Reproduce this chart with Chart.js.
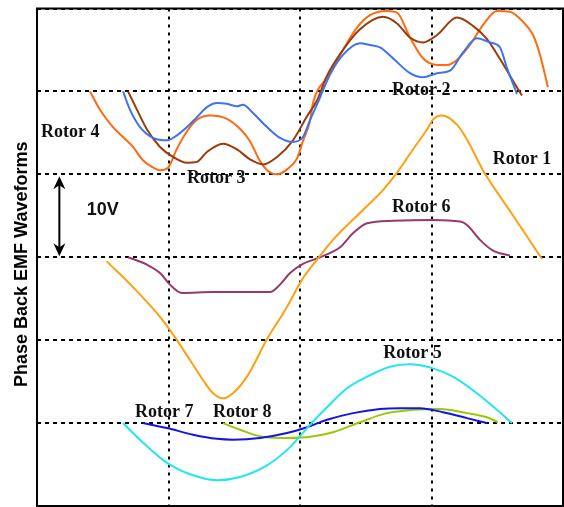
<!DOCTYPE html>
<html>
<head>
<meta charset="utf-8">
<script src="https://cdn.jsdelivr.net/npm/chart.js@4.4.0/dist/chart.umd.min.js"></script>
<style>
  html, body { margin: 0; padding: 0; background: #fff; overflow: hidden; }
</style>
</head>
<body>
<canvas id="emf" width="564" height="507"></canvas>
<script>
// Phase back-EMF waveforms of eight rotor designs.
// Each point: [electrical angle in degrees, offset voltage in V]; one grid division = 10 V.
const rotor1 = [[47.7,29.5],[65.7,26.4],[84.2,22.8],[95.8,20.0],[104.7,17.6],[113.6,15.2],[120.5,13.6],[127.3,13.0],[134.1,13.6],[143.7,15.6],[157.4,20.1],[171.1,24.0],[181.4,27.3],[191.6,29.7],[202.6,32.1],[223.1,35.7],[236.8,38.1],[246.4,40.2],[257.3,43.0],[266.9,45.4],[271.0,46.6],[277.2,47.1],[287.4,46.0],[294.3,44.2],[305.2,40.5],[321.7,36.1],[335.4,32.5],[345.6,29.8]];
const rotor2 = [[58.9,50.0],[63.6,47.8],[70.5,45.7],[79.4,44.4],[89.0,44.1],[95.8,44.7],[102.7,45.7],[109.5,46.9],[116.3,48.1],[123.2,48.6],[130.0,48.5],[136.9,48.2],[141.0,48.4],[147.8,47.4],[157.4,45.7],[166.3,44.4],[175.2,43.9],[182.0,44.5],[186.8,46.5],[191.6,48.4],[200.5,52.0],[209.4,54.4],[221.1,55.8],[227.9,55.6],[234.8,55.3],[243.6,54.0],[255.3,52.2],[264.2,51.7],[273.8,52.2],[282.7,52.5],[291.6,54.7],[301.1,56.4],[310.0,55.9],[316.9,55.3],[321.7,52.8],[328.5,49.7]];
const rotor3 = [[62.3,50.0],[68.4,47.8],[75.3,45.4],[84.2,43.3],[93.1,42.1],[102.7,41.4],[109.5,41.5],[116.3,42.7],[127.3,43.7],[136.9,43.0],[145.8,41.8],[154.7,41.2],[164.3,42.1],[175.2,44.1],[184.8,47.0],[191.6,48.9],[198.5,51.9],[209.4,55.0],[221.1,57.5],[236.8,59.0],[246.4,58.2],[255.3,56.5],[264.2,55.9],[273.8,56.8],[287.4,58.9],[298.4,57.9],[308.0,56.3],[316.9,53.9],[323.7,51.9],[331.9,49.5]];
const rotor4 = [[36.3,50.0],[43.1,47.8],[52.0,45.7],[58.9,44.5],[65.7,43.3],[72.5,41.7],[78.7,40.9],[84.2,40.5],[89.7,40.8],[95.8,43.1],[102.7,45.2],[109.5,46.6],[118.4,47.1],[130.0,46.7],[138.9,45.5],[145.8,44.0],[152.6,41.6],[158.1,40.4],[164.3,40.0],[171.1,40.6],[177.9,41.9],[182.0,44.0],[186.8,46.4],[188.9,48.6],[198.5,51.7],[207.4,54.4],[219.0,57.7],[227.9,59.2],[239.5,59.7],[246.4,59.5],[255.3,56.5],[264.2,54.0],[273.8,53.2],[280.6,53.2],[287.4,53.8],[296.3,55.6],[305.2,58.0],[314.8,59.7],[323.7,59.6],[332.6,58.4],[339.5,56.8],[344.3,54.4],[349.7,50.5]];
const rotor5 = [[58.9,10.0],[70.5,8.0],[89.0,5.2],[106.8,3.7],[123.2,3.1],[138.9,3.5],[157.4,4.9],[173.2,7.1],[184.8,9.4],[198.5,11.9],[212.2,14.2],[225.9,15.6],[241.6,16.8],[255.3,17.1],[271.0,16.6],[284.7,15.6],[301.1,13.6],[314.8,11.6],[325.1,10.0]];
const rotor6 = [[62.3,30.0],[75.3,29.1],[84.2,28.1],[91.0,26.7],[99.2,25.7],[120.5,25.8],[150.6,25.8],[159.5,25.8],[166.3,26.7],[173.2,28.1],[182.0,29.2],[193.7,30.0],[207.4,31.2],[216.3,32.9],[225.9,34.1],[243.6,34.4],[271.0,34.5],[289.5,34.3],[294.3,33.9],[303.2,32.1],[312.1,30.8],[323.7,30.2]];
const rotor7 = [[72.5,10.0],[89.0,9.4],[106.8,8.6],[123.2,8.1],[134.1,8.0],[152.6,8.2],[171.1,8.8],[184.8,9.5],[198.5,10.4],[216.3,11.2],[234.8,11.7],[248.4,11.8],[262.1,11.8],[277.9,11.3],[294.3,10.6],[308.0,10.0]];
const rotor8 = [[127.3,10.0],[138.9,9.2],[152.6,8.4],[166.3,8.2],[184.8,8.3],[202.6,8.9],[221.1,10.1],[239.5,11.2],[257.3,11.6],[275.8,11.7],[294.3,11.2],[308.0,10.7],[315.5,10.1]];

const seriesNames = ['Rotor 1','Rotor 2','Rotor 3','Rotor 4','Rotor 5','Rotor 6','Rotor 7','Rotor 8'];
const seriesData  = [rotor1, rotor2, rotor3, rotor4, rotor5, rotor6, rotor7, rotor8];
const seriesColors = ['#FFA010','#3D72F2','#9C3A0A','#FF6A10','#22E6EE','#973A6B','#1414E6','#99C80A'];

// Axis extents: 0..360 electrical degrees, 0..60 V (six 10 V divisions)
const xRange = [0, 360, 90];
const yRange = [0, 60, 10];

// Text placed in the plot: [text, angle, voltage] (left edge, baseline)
const curveLabels = [
  ['Rotor 1', 312, 41.2], ['Rotor 2', 243, 49.6], ['Rotor 3', 102.7, 39.0], ['Rotor 4', 2.7, 44.5],
  ['Rotor 5', 237, 17.8], ['Rotor 6', 243, 35.5], ['Rotor 7', 67, 10.7], ['Rotor 8', 120.5, 10.7]
];
const scaleNote = ['10V', 34, 35.1];
const scaleArrow = [15.3, 30, 40];

const datasets = seriesData.map((pts, i) => ({
  label: seriesNames[i],
  data: pts.map(p => ({ x: p[0], y: p[1] })),
  borderColor: seriesColors[i],
  borderWidth: 2,
  pointRadius: 0,
  fill: false,
  cubicInterpolationMode: 'monotone'
}));

const decorations = {
  id: 'decorations',
  afterDraw(chart) {
    const { ctx, chartArea: a, scales: { x, y } } = chart;
    ctx.save();
    // frame
    ctx.strokeStyle = '#000';
    ctx.lineWidth = 2;
    ctx.strokeRect(a.left, a.top, a.right - a.left, a.bottom - a.top);

    // curve labels
    ctx.fillStyle = '#111';
    ctx.font = 'bold 18px "Liberation Serif", "Times New Roman", serif';
    ctx.textAlign = 'left';
    ctx.textBaseline = 'alphabetic';
    curveLabels.forEach(([t, ang, v]) => ctx.fillText(t, x.getPixelForValue(ang), y.getPixelForValue(v)));

    // 10 V scale marker
    ctx.font = 'bold 18px "Liberation Sans", Arial, sans-serif';
    ctx.fillText(scaleNote[0], x.getPixelForValue(scaleNote[1]), y.getPixelForValue(scaleNote[2]));
    const ax = x.getPixelForValue(scaleArrow[0]);
    const yb = y.getPixelForValue(scaleArrow[1]) - 1;
    const yt = y.getPixelForValue(scaleArrow[2]) + 2;
    ctx.strokeStyle = '#000';
    ctx.lineWidth = 2;
    ctx.beginPath();
    ctx.moveTo(ax, yt + 6);
    ctx.lineTo(ax, yb - 6);
    ctx.stroke();
    const head = (tipY, dir) => {
      ctx.beginPath();
      ctx.moveTo(ax, tipY);
      ctx.lineTo(ax - 6, tipY + dir * 13);
      ctx.lineTo(ax, tipY + dir * 9);
      ctx.lineTo(ax + 6, tipY + dir * 13);
      ctx.closePath();
      ctx.fillStyle = '#000';
      ctx.fill();
    };
    head(yt, 1);
    head(yb, -1);

    // vertical axis title
    ctx.translate(27, (a.top + a.bottom) / 2 + 7);
    ctx.rotate(-Math.PI / 2);
    ctx.textAlign = 'center';
    ctx.fillStyle = '#000';
    ctx.font = 'bold 18px "Liberation Sans", Arial, sans-serif';
    ctx.fillText('Phase Back EMF Waveforms', 0, 0);
    ctx.restore();
  }
};

const gridStyle = (dash) => ({
  grid: { color: '#000', lineWidth: 2, drawTicks: false },
  border: { display: false, dash: dash },
  ticks: { display: false }
});

new Chart(document.getElementById('emf'), {
  type: 'line',
  data: { datasets },
  options: {
    responsive: false,
    animation: false,
    layout: { padding: { left: 37, top: 8.5, right: 1, bottom: 1 } },
    plugins: { legend: { display: false }, tooltip: { enabled: false } },
    scales: {
      x: Object.assign({ type: 'linear', min: xRange[0], max: xRange[1] }, gridStyle([3, 5]), { ticks: { display: false, stepSize: xRange[2] } }),
      y: Object.assign({ type: 'linear', min: yRange[0], max: yRange[1] }, gridStyle([4, 4]), { ticks: { display: false, stepSize: yRange[2] } })
    }
  },
  plugins: [decorations]
});
</script>
</body>
</html>
